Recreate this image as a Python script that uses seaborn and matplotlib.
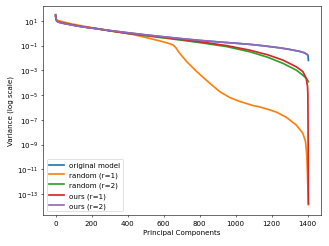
import numpy as np
import pandas as pd
import matplotlib
matplotlib.use("Agg")
import matplotlib.pyplot as plt
import seaborn as sns

# Data (x = principal component index, values = log10 variance)
x_orig = [0, 1, 3, 8, 15, 30, 55, 100, 150, 221, 300, 400, 498, 600, 700, 800, 900, 1000, 1079,
          1150, 1250, 1300, 1356, 1380, 1393, 1400, 1403, 1405]
y_orig = [1.45, 1.3, 1.1, 0.98, 0.92, 0.85, 0.78, 0.65, 0.52, 0.38, 0.22, 0.04, -0.13, -0.29, -0.44,
          -0.58, -0.7, -0.81, -0.9, -1.01, -1.19, -1.31, -1.47, -1.57, -1.67, -1.74, -1.85, -2.2]

x_r1 = [0, 1, 3, 10, 28, 60, 100, 200, 300, 424, 526, 600, 640, 655, 670, 683, 729, 784, 858, 913,
        968, 1020, 1097, 1134, 1190, 1227, 1282, 1337, 1374, 1389, 1396, 1400, 1403, 1405]
y_r1 = [1.35, 1.25, 1.12, 1.02, 0.97, 0.85, 0.72, 0.45, 0.2, -0.08, -0.43, -0.7, -0.88, -0.97, -1.2,
        -1.5, -2.3, -3.1, -4.06, -4.73, -5.2, -5.5, -5.85, -5.96, -6.2, -6.38, -6.8, -7.42, -8.09,
        -8.76, -9.84, -11.45, -13.0, -13.87]

x_r2 = [0, 1, 3, 8, 15, 30, 55, 100, 150, 221, 300, 400, 526, 650, 802, 950, 1079, 1180, 1264,
        1337, 1374, 1393, 1400, 1405]
y_r2 = [1.5, 1.3, 1.1, 0.98, 0.92, 0.85, 0.78, 0.65, 0.52, 0.38, 0.2, -0.02, -0.25, -0.47, -0.76,
        -1.08, -1.5, -1.95, -2.44, -2.98, -3.39, -3.65, -3.8, -3.92]

x_o1 = [0, 1, 3, 8, 15, 30, 55, 100, 150, 221, 300, 400, 526, 650, 802, 950, 1079, 1180, 1264,
        1337, 1374, 1393, 1400, 1402, 1403, 1404, 1405]
y_o1 = [1.45, 1.3, 1.1, 0.98, 0.92, 0.85, 0.78, 0.65, 0.52, 0.38, 0.2, 0.0, -0.21, -0.42, -0.69,
        -1.0, -1.37, -1.75, -2.18, -2.71, -3.1, -3.65, -4.3, -4.9, -7.0, -10.5, -13.8]

x_o2 = [0, 1, 3, 8, 15, 30, 55, 100, 150, 221, 300, 400, 498, 600, 700, 800, 900, 1000, 1079,
        1150, 1250, 1300, 1356, 1380, 1393, 1400, 1403]
y_o2 = [1.45, 1.3, 1.1, 0.96, 0.9, 0.83, 0.76, 0.63, 0.51, 0.38, 0.22, 0.04, -0.13, -0.29, -0.44,
        -0.58, -0.7, -0.81, -0.9, -1.01, -1.19, -1.31, -1.47, -1.57, -1.67, -1.74, -1.8]

labels = ["original model", "random (r=1)", "random (r=2)", "ours (r=1)", "ours (r=2)"]
colors = ["#1f77b4", "#ff7f0e", "#2ca02c", "#d62728", "#9467bd"]
series = [(x_orig, y_orig), (x_r1, y_r1), (x_r2, y_r2), (x_o1, y_o1), (x_o2, y_o2)]

frames = []
for lab, (xs, ys) in zip(labels, series):
    frames.append(pd.DataFrame({"pc": xs, "var": 10.0 ** np.array(ys), "model": lab}))
df = pd.concat(frames, ignore_index=True)

dpi = 51.4
fig = plt.figure(figsize=(329 / dpi, 247 / dpi), dpi=dpi)
ax = fig.add_axes([43 / 329, 1 - 216 / 247, (321 - 43) / 329, (216 - 7) / 247])

for lab, col in zip(labels, colors):
    sub = df[df["model"] == lab]
    sns.lineplot(data=sub, x="pc", y="var", color=col, label=lab, linewidth=2.4,
                 ax=ax, sort=False, estimator=None)

ax.set_yscale("log")
ax.set_xlim(-70, 1475)
ax.set_ylim(10 ** -14.7, 10 ** 2.2)
ax.set_xticks([0, 200, 400, 600, 800, 1000, 1200, 1400])
ax.set_xlabel("Principal Components")
ax.set_ylabel("Variance (log scale)")
leg = ax.legend(loc="lower left")
for line in leg.get_lines():
    line.set_linewidth(2.4)

fig.savefig("out.png", dpi=dpi)
